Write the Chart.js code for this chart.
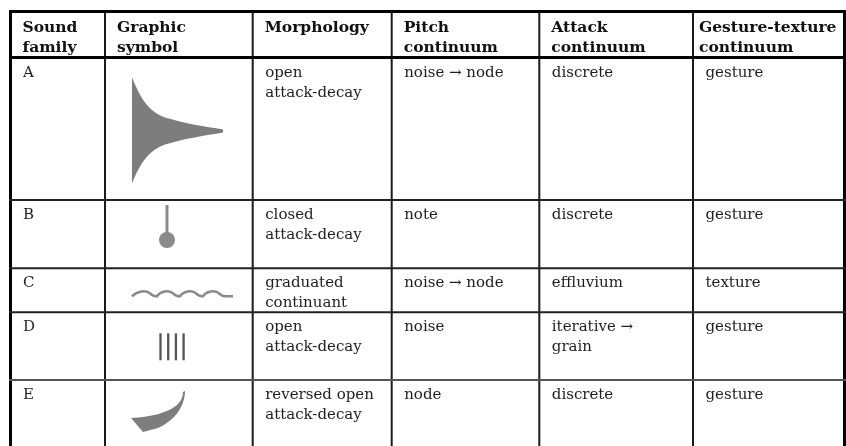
<!DOCTYPE html>
<html>
<head>
<meta charset="utf-8">
<script src="https://cdn.jsdelivr.net/npm/chart.js@4.4.1/dist/chart.umd.min.js"></script>
<style>
  html, body { margin: 0; padding: 0; background: #fff; }
  #caixa { width: 846px; height: 446px; }
</style>
</head>
<body>
<div id="caixa"><canvas id="tabela"></canvas></div>
<script>
// conteudo da tabela
var cabecalhos = [['Sound', 'family'], ['Graphic', 'symbol'], ['Morphology'], ['Pitch', 'continuum'], ['Attack', 'continuum'], ['Gesture-texture', 'continuum']];
var familias = ['A', 'B', 'C', 'D', 'E'];
var simbolos = ['decay', 'pin', 'wave', 'bars', 'reversed'];
var morfologia = [['open', 'attack-decay'], ['closed', 'attack-decay'], ['graduated', 'continuant'], ['open', 'attack-decay'], ['reversed open', 'attack-decay']];
var altura = [['noise \u2192 node'], ['note'], ['noise \u2192 node'], ['noise'], ['node']];
var ataque = [['discrete'], ['discrete'], ['effluvium'], ['iterative \u2192', 'grain'], ['discrete']];
var gestoTextura = [['gesture'], ['gesture'], ['texture'], ['gesture'], ['gesture']];

// grade (em unidades da escala, 1 unidade = 1 px)
var colunas = [10.5, 105, 252.7, 391.7, 539.3, 693, 844.5];
var linhas = [11.5, 57.5, 200, 268.3, 312.3, 380];

var fonteCorpo = '15px "DejaVu Serif"';
var fonteCabecalho = 'bold 15.5px "DejaVu Serif"';

function desenharSimbolo(ctx, tipo, x0, y0) {
  ctx.save();
  if (tipo == 'decay') {
    ctx.fillStyle = '#7d7d7d';
    ctx.beginPath();
    ctx.moveTo(x0 + 27, y0 + 20);
    ctx.bezierCurveTo(x0 + 36, y0 + 42, x0 + 44, y0 + 54, x0 + 60, y0 + 60);
    ctx.bezierCurveTo(x0 + 80, y0 + 66, x0 + 100, y0 + 69, x0 + 118, y0 + 72);
    ctx.lineTo(x0 + 118, y0 + 75);
    ctx.bezierCurveTo(x0 + 100, y0 + 78, x0 + 80, y0 + 81, x0 + 60, y0 + 87);
    ctx.bezierCurveTo(x0 + 44, y0 + 93, x0 + 36, y0 + 104, x0 + 27, y0 + 126);
    ctx.closePath();
    ctx.fill();
  } else if (tipo == 'pin') {
    ctx.strokeStyle = '#8a8a8a';
    ctx.fillStyle = '#8a8a8a';
    ctx.lineWidth = 3;
    ctx.beginPath();
    ctx.moveTo(x0 + 62, y0 + 5);
    ctx.lineTo(x0 + 62, y0 + 34);
    ctx.stroke();
    ctx.beginPath();
    ctx.arc(x0 + 62, y0 + 40, 8, 0, Math.PI * 2);
    ctx.fill();
  } else if (tipo == 'wave') {
    ctx.strokeStyle = '#8a8a8a';
    ctx.lineWidth = 2.5;
    ctx.beginPath();
    ctx.moveTo(x0 + 27, y0 + 28);
    for (var i = 0; i < 4; i++) {
      var xi = x0 + 29 + i * 23;
      ctx.bezierCurveTo(xi + 3, y0 + 23, xi + 12, y0 + 21, xi + 16, y0 + 25);
      ctx.quadraticCurveTo(xi + 19, y0 + 28, xi + 23, y0 + 28);
    }
    ctx.lineTo(x0 + 128, y0 + 28);
    ctx.stroke();
  } else if (tipo == 'bars') {
    ctx.strokeStyle = '#555';
    ctx.lineWidth = 2.3;
    for (var j = 0; j < 4; j++) {
      var xb = x0 + 55.5 + j * 7.7;
      ctx.beginPath();
      ctx.moveTo(xb, y0 + 21);
      ctx.lineTo(xb, y0 + 48);
      ctx.stroke();
    }
  } else if (tipo == 'reversed') {
    ctx.fillStyle = '#7d7d7d';
    ctx.beginPath();
    ctx.moveTo(x0 + 26, y0 + 38);
    ctx.bezierCurveTo(x0 + 45, y0 + 37, x0 + 63, y0 + 33, x0 + 72, y0 + 25);
    ctx.bezierCurveTo(x0 + 76, y0 + 21, x0 + 78, y0 + 17, x0 + 78, y0 + 12);
    ctx.lineTo(x0 + 80, y0 + 11);
    ctx.bezierCurveTo(x0 + 80, y0 + 25, x0 + 71, y0 + 40, x0 + 53, y0 + 48);
    ctx.lineTo(x0 + 38, y0 + 52);
    ctx.closePath();
    ctx.fill();
  }
  ctx.restore();
}

var pluginTabela = {
  id: 'tabela',
  afterDraw: function (chart) {
    var ctx = chart.ctx;
    var sx = chart.scales.x;
    var sy = chart.scales.y;
    var px = function (v) { return sx.getPixelForValue(v); };
    var py = function (v) { return sy.getPixelForValue(v); };
    var fundo = py(446);

    // linhas da grade
    ctx.save();
    ctx.lineCap = 'butt';
    for (var c = 0; c < colunas.length; c++) {
      var externa = (c == 0 || c == colunas.length - 1);
      ctx.strokeStyle = externa ? '#000' : '#1a1a1a';
      ctx.lineWidth = externa ? 3 : 2;
      ctx.beginPath();
      ctx.moveTo(px(colunas[c]), py(linhas[0]) - 1.5);
      ctx.lineTo(px(colunas[c]), fundo);
      ctx.stroke();
    }
    for (var l = 0; l < linhas.length; l++) {
      var grossa = (l <= 1);
      ctx.strokeStyle = grossa ? '#000' : (l == 5 ? '#555' : '#222');
      ctx.lineWidth = grossa ? 3 : 2;
      ctx.beginPath();
      ctx.moveTo(px(colunas[0]) - 1.5, py(linhas[l]));
      ctx.lineTo(px(colunas[colunas.length - 1]) + 1.5, py(linhas[l]));
      ctx.stroke();
    }

    // cabecalho
    ctx.fillStyle = '#111';
    ctx.textBaseline = 'alphabetic';
    ctx.font = fonteCabecalho;
    for (var h = 0; h < cabecalhos.length; h++) {
      var recuo = (h == cabecalhos.length - 1) ? 6 : 12;
      for (var k = 0; k < cabecalhos[h].length; k++) {
        ctx.fillText(cabecalhos[h][k], px(colunas[h] + recuo), py(linhas[0] + 20 + k * 20));
      }
    }

    // corpo
    ctx.font = fonteCorpo;
    ctx.fillStyle = '#1e1e1e';
    var colunasTexto = [null, null, morfologia, altura, ataque, gestoTextura];
    for (var r = 0; r < familias.length; r++) {
      var topo = linhas[r + 1];
      ctx.fillText(familias[r], px(colunas[0] + 12.5), py(topo + 19));
      for (var ct = 2; ct < colunasTexto.length; ct++) {
        var linhasCelula = colunasTexto[ct][r];
        for (var m = 0; m < linhasCelula.length; m++) {
          ctx.fillText(linhasCelula[m], px(colunas[ct] + 12.5), py(topo + 19 + m * 20));
        }
      }
      desenharSimbolo(ctx, simbolos[r], px(colunas[1]), py(topo));
    }
    ctx.restore();
  }
};

new Chart(document.getElementById('tabela'), {
  type: 'scatter',
  data: { datasets: [] },
  options: {
    responsive: true,
    maintainAspectRatio: false,
    animation: false,
    events: [],
    layout: { padding: 0 },
    plugins: {
      legend: { display: false },
      tooltip: { enabled: false }
    },
    scales: {
      x: { type: 'linear', display: false, min: 0, max: 846 },
      y: { type: 'linear', display: false, min: 0, max: 446, reverse: true }
    }
  },
  plugins: [pluginTabela]
});
</script>
</body>
</html>
